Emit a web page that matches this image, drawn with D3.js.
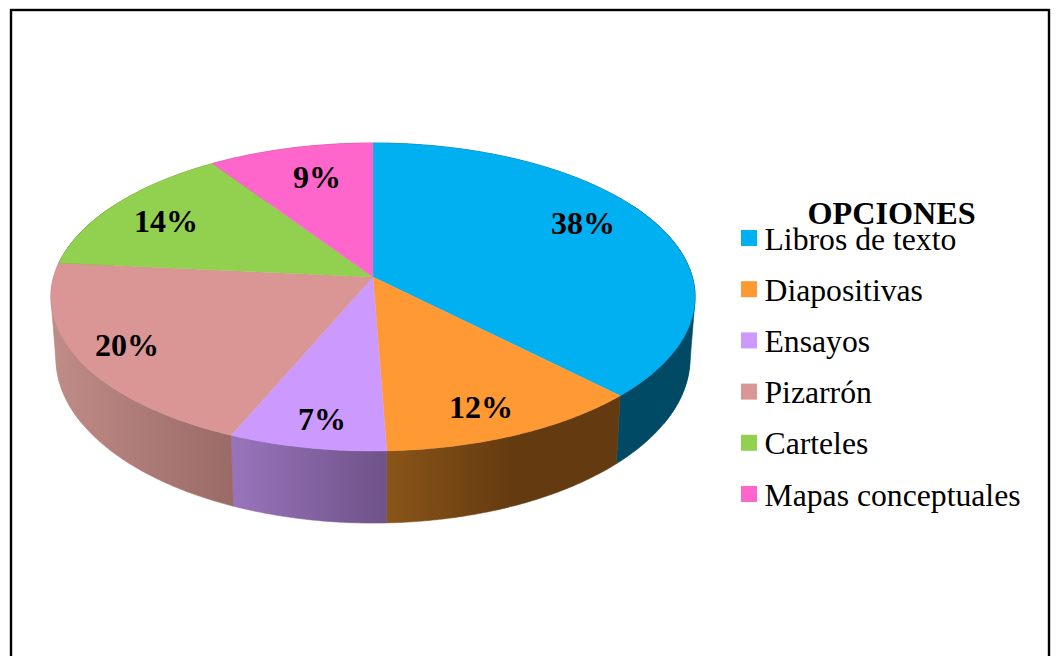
<!DOCTYPE html>
<html><head><meta charset="utf-8">
<script src="https://cdn.jsdelivr.net/npm/d3@7/dist/d3.min.js"></script>
<style>html,body{margin:0;padding:0;background:#fff;overflow:hidden}svg{display:block}</style>
</head><body><svg id="c" width="1056" height="656"></svg>
<script>
const categories = ["Libros de texto","Diapositivas","Ensayos","Pizarrón","Carteles","Mapas conceptuales"];
const values = [37.6,11.8,7.0,20.1,14.1,9.4];
const colors = ["#00B0F0","#FF9933","#CC99FF","#D99694","#92D050","#FF66CC"];
const sideFrom = ["#004A66","#8A5518","#9974BC","#C08C88","#5E8A30","#A04080"];
const sideTo   = ["#004A66","#643A10","#6F5288","#9A6A66","#5E8A30","#A04080"];
const legendTitle = "OPCIONES";

const svg = d3.select("#c");
const TF = "'Liberation Serif','Times New Roman',serif";
svg.append("rect").attr("x",11).attr("y",10).attr("width",1038).attr("height",700)
  .attr("fill","#fff").attr("stroke","#000").attr("stroke-width",2.4);

const k = 0.13;
function rim(a, g){ const u=Math.sin(a), v=-Math.cos(a), w=1-k*v;
  return [g.cx+g.b*u/w, g.y0+g.a*v/w]; }
const topG = {cx:373,y0:277,a:151.4,b:319.3};
const botG = {cx:373,y0:336.5,a:162.3,b:314.3};
const arcs = d3.pie().sort(null).value(d=>d)(values);
const line = d3.line();
const sample = (s,e)=>{ const n=Math.max(4,Math.ceil((e-s)/0.01)); return d3.range(n+1).map(i=>s+(e-s)*i/n); };
const defs = svg.append("defs");
const rad = d3.scaleLinear().domain([0,360]).range([0,2*Math.PI]);
const silhouetteBands = [[60,120],[240,300]];

const sides = svg.append("g");
const tops = svg.append("g");
arcs.forEach((d,i)=>{
  const as = sample(d.startAngle,d.endAngle);
  const T = as.map(a=>rim(a,topG)), B = as.map(a=>rim(a,botG));
  const xs = T.concat(B).map(p=>p[0]);
  const id="s"+i, x0=d3.min(xs), x1=d3.max(xs);
  const gr = defs.append("linearGradient").attr("id",id).attr("gradientUnits","userSpaceOnUse")
    .attr("x1",x0).attr("x2",x1).attr("y1",0).attr("y2",0);
  gr.append("stop").attr("offset",0).attr("stop-color",sideFrom[i]);
  gr.append("stop").attr("offset",i===1?0.55:1).attr("stop-color",sideTo[i]);
  const sg = sides.append("g").attr("fill",`url(#${id})`).attr("stroke",`url(#${id})`).attr("stroke-width",0.6);
  sg.append("path").attr("d",line(T.concat(B.slice().reverse()))+"Z");
  silhouetteBands.forEach(([lo,hi])=>{
    const s=Math.max(d.startAngle,rad(lo)), e=Math.min(d.endAngle,rad(hi));
    if(e<=s) return;
    const aa=sample(s,e);
    const hull=d3.polygonHull(aa.map(a=>rim(a,topG)).concat(aa.map(a=>rim(a,botG))));
    sg.append("path").attr("d",line(hull)+"Z");
  });
  tops.append("path").attr("d",line([[topG.cx,topG.y0]].concat(T))+"Z").attr("fill",colors[i])
    .attr("stroke",colors[i]).attr("stroke-width",0.4);
});

const labelPos = [[583,223],[481,407],[322,419],[127,345],[166,221],[317,177]];
svg.append("g").selectAll("text").data(arcs).join("text")
  .attr("x",(d,i)=>labelPos[i][0]).attr("y",(d,i)=>labelPos[i][1])
  .attr("text-anchor","middle").attr("dominant-baseline","central")
  .attr("font-family",TF).attr("font-weight","bold").attr("font-size",32)
  .text(d=>Math.round(d.value)+"%");

svg.append("text").attr("x",891.5).attr("y",224).attr("text-anchor","middle")
  .attr("font-family",TF).attr("font-weight","bold").attr("font-size",32.2).text(legendTitle);
const rowY = d3.scaleLinear().domain([0,5]).range([238,494]);
const lg = svg.append("g").selectAll("g").data(categories).join("g")
  .attr("transform",(d,i)=>`translate(0,${rowY(i)})`);
lg.append("rect").attr("x",741).attr("y",-8).attr("width",16).attr("height",16).attr("fill",(d,i)=>colors[i]);
lg.append("text").attr("x",764.5).attr("y",11.5).attr("font-family",TF).attr("font-size",31.7).text(d=>d);
</script></body></html>
